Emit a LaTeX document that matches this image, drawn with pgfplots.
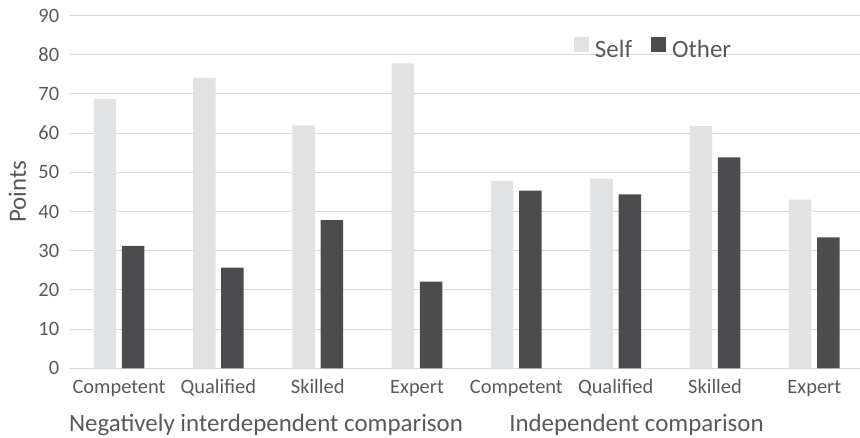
\documentclass[border=0pt]{standalone}
\usepackage{pgfplots}
\pgfplotsset{compat=1.18}
\usepackage{fontspec}
\setmainfont{Carlito}

\definecolor{selfgrey}{RGB}{225,226,228}
\definecolor{othergrey}{RGB}{76,76,78}
\definecolor{gridgrey}{RGB}{217,217,217}
\definecolor{labelgrey}{RGB}{89,89,89}

\begin{document}
\begin{tikzpicture}
\begin{axis}[
  at={(0,0)}, anchor=south west,
  scale only axis, width=790.6bp, height=352.8bp,
  xmin=-0.5, xmax=7.46, ymin=0, ymax=90,
  ytick={0,10,...,90},
  xtick={0,...,7},
  xticklabels={Competent,Qualified,Skilled,Expert,Competent,Qualified,Skilled,Expert},
  axis x line*=bottom, axis y line*=left,
  x axis line style={gridgrey, line width=1.4bp},
  y axis line style={draw=none},
  major tick length=0pt,
  ymajorgrids, grid style={gridgrey, line width=1bp},
  tick label style={font=\fontsize{20.5}{24}\selectfont, text=labelgrey},
  /pgf/number format/assume math mode=true,
  yticklabel style={anchor=east, inner sep=0pt, xshift=-10bp},
  xticklabel style={anchor=base, inner sep=0pt, yshift=-24.7bp},
  legend columns=2,
  legend style={at={(0.7376,0.908)}, anchor=center, draw=none, fill=none,
    font=\fontsize{25}{30}\selectfont, text=labelgrey,
    nodes={inner sep=0pt},
    /tikz/every odd column/.append style={column sep=6bp},
    /tikz/every even column/.append style={column sep=19bp}},
  legend image code/.code={\fill[#1] (0bp,-2bp) rectangle (15bp,13bp);},
]
\addplot[ybar, bar width=22.5bp, bar shift=-14.1bp, fill=selfgrey, draw=none]
  coordinates {(0,68.7) (1,74.1) (2,62.0) (3,77.8) (4,47.8) (5,48.4) (6,61.8) (7,43.0)};
\addlegendentry{Self}
\addplot[ybar, bar width=22.5bp, bar shift=14.1bp, fill=othergrey, draw=none]
  coordinates {(0,31.2) (1,25.7) (2,37.8) (3,22.1) (4,45.3) (5,44.4) (6,53.8) (7,33.4)};
\addlegendentry{Other}
\end{axis}

% axis title and group captions
\node[font=\fontsize{25}{30}\selectfont, text=labelgrey, rotate=90, anchor=base]
  at (-43.4bp,176.4bp) {Points};
\node[font=\fontsize{25}{30}\selectfont, text=labelgrey, anchor=base]
  at (196.6bp,-63.4bp) {Negatively interdependent comparison};
\node[font=\fontsize{25}{30}\selectfont, text=labelgrey, anchor=base]
  at (567.1bp,-63.4bp) {Independent comparison};

\pgfresetboundingbox
\path[use as bounding box] (-69.4bp,-69.7bp) rectangle (790.6bp,368.3bp);
\end{tikzpicture}
\end{document}
